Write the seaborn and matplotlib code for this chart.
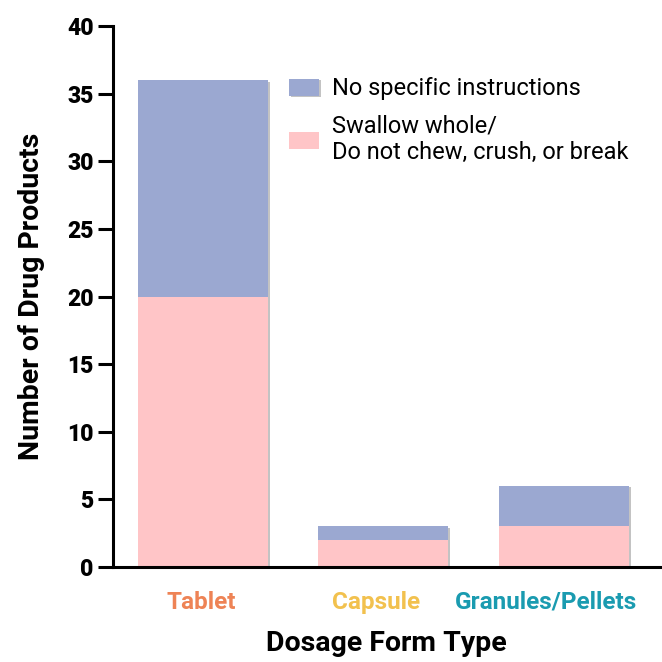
import pandas as pd
import seaborn as sns
import matplotlib.pyplot as plt
import matplotlib.patheffects as pe
from matplotlib.transforms import ScaledTranslation

# Data
forms = ['Tablet', 'Capsule', 'Granules/Pellets']
swallow_whole = [20, 2, 3]
no_instructions = [16, 1, 3]
label_colors = ['#EE8355', '#F2C14E', '#1A9BB0']

df = pd.DataFrame({'form': forms, 'swallow': swallow_whole, 'none': no_instructions})
df['total'] = df['swallow'] + df['none']

sns.set_theme(style='ticks', rc={'text.color': 'black', 'axes.labelcolor': 'black',
                                 'xtick.color': 'black', 'ytick.color': 'black'})
plt.rcParams['font.family'] = ['Roboto', 'DejaVu Sans']

fig = plt.figure(figsize=(6.62, 6.62), dpi=100)
ax = fig.add_axes([0.1707, 0.1435, 0.827, 0.8172])

shadow = [pe.SimplePatchShadow(offset=(1.5, -1), shadow_rgbFace='#888888', alpha=0.5), pe.Normal()]

sns.barplot(data=df, x='form', y='total', color='#9BA8D1', width=0.72,
            saturation=1, ax=ax, label='No specific instructions')
sns.barplot(data=df, x='form', y='swallow', color='#FFC5C7', width=0.72,
            saturation=1, ax=ax, label='Swallow whole/\nDo not chew, crush, or break')
for p in ax.patches:
    p.set_linewidth(0)
for p in ax.patches[:len(forms)]:
    p.set_path_effects(shadow)

ax.set_xlim(-0.497, 2.536)
ax.set_ylim(0, 40)
ax.set_yticks(range(0, 41, 5))
sns.despine(ax=ax)
for side in ['left', 'bottom']:
    ax.spines[side].set_linewidth(2.2)
    ax.spines[side].set_color('black')
ax.tick_params(axis='y', length=11, width=2.2, color='black', pad=3, labelsize=16.5)
ax.tick_params(axis='x', length=0, pad=17, labelsize=17.5)
for lbl in ax.get_yticklabels():
    lbl.set_fontweight('heavy')

# the category labels sit slightly left of the bar centres in the original
shifts = [-0.01, -0.07, -0.18]
for lbl, c, dx in zip(ax.get_xticklabels(), label_colors, shifts):
    lbl.set_color(c)
    lbl.set_fontweight('bold')
    lbl.set_transform(lbl.get_transform() + ScaledTranslation(dx, 0, fig.dpi_scale_trans))

ax.set_ylabel('Number of Drug Products', fontsize=20.5, fontweight='bold', labelpad=16)
ax.set_xlabel('Dosage Form Type', fontsize=20.5, fontweight='bold', labelpad=12)

ax.legend(loc='upper left', bbox_to_anchor=(0.322, 0.905), frameon=False, fontsize=17,
          borderpad=0, borderaxespad=0,
          handlelength=1.27, handleheight=0.72, handletextpad=0.55, labelspacing=0.6)

fig.savefig('out.png', dpi=100)
